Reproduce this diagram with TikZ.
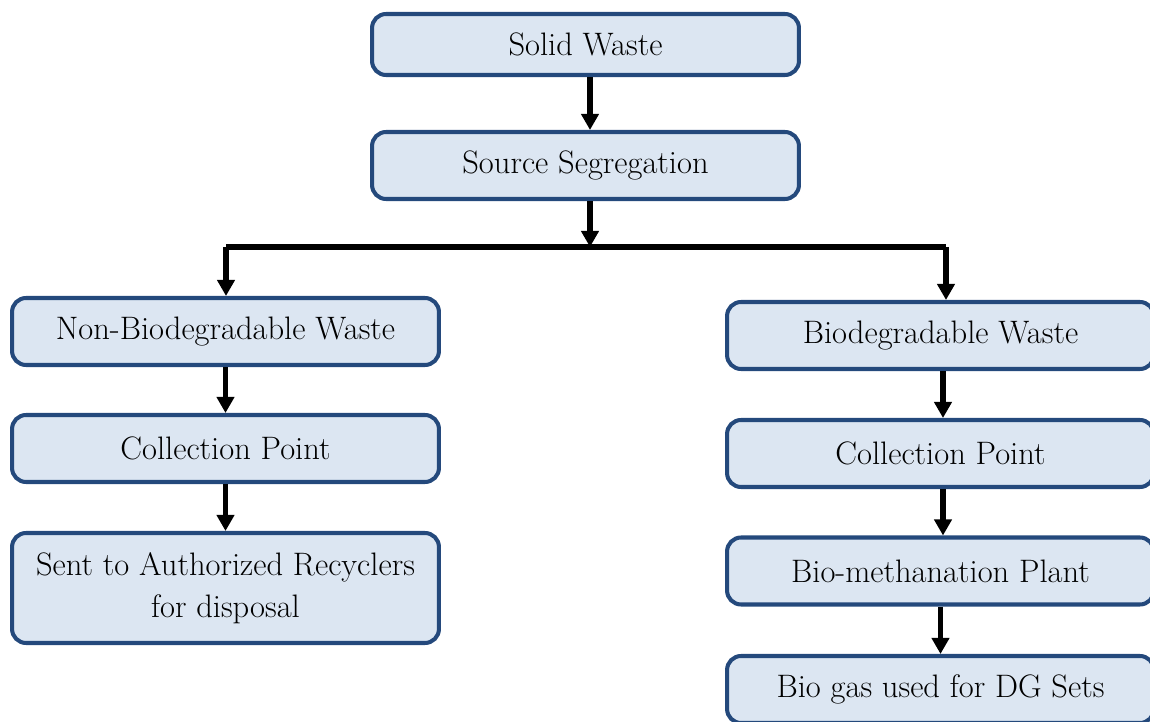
\documentclass[tikz,border=0pt]{standalone}
\usetikzlibrary{arrows.meta}

\definecolor{boxline}{HTML}{24497C}
\definecolor{boxfill}{HTML}{DCE6F2}

\begin{document}
\begin{tikzpicture}[
    x=0.02cm, y=-0.02cm,
    stepbox/.style={draw=boxline, fill=boxfill, line width=2.3pt, rounded corners=8pt,
        minimum width=8.54cm, minimum height=1.34cm, align=center,
        font=\fontsize{18.5}{24}\selectfont},
    arr/.style={line width=2.9pt, -{Triangle[length=3.2mm,width=3.4mm]}},
    bus/.style={line width=3pt}
]
\useasboundingbox (0,0) rectangle (1150,722);

% Main nodes
\node[stepbox, minimum height=1.22cm] (sw) at (585.5,44.5) {Solid Waste};
\node[stepbox] (seg) at (585.5,165.5) {Source Segregation};

% Left branch
\node[stepbox] (nbw) at (225.5,331.5) {Non-Biodegradable Waste};
\node[stepbox] (cpl) at (225.5,448.5) {Collection Point};
\node[stepbox, minimum height=2.2cm] (rec) at (225.5,588) {Sent to Authorized Recyclers\\for disposal};

% Right branch
\node[stepbox] (bw) at (940.5,335.5) {Biodegradable Waste};
\node[stepbox] (cpr) at (940.5,453.5) {Collection Point};
\node[stepbox] (bmp) at (940.5,571) {Bio-methanation Plant};
\node[stepbox] (bg) at (940.5,689.5) {Bio gas used for DG Sets};

% Helper coordinates
\coordinate (split) at (590,247);
\coordinate (busl) at (226,247);
\coordinate (busr) at (946,247);
\coordinate (rx) at (943,0);

% Top flow
\draw[arr] (split |- sw.south) -- (split |- seg.north);
\draw[arr] (split |- seg.south) -- (split);
\draw[bus] (busl) -- (busr);

% Branches
\draw[arr] (busl) -- (busl |- nbw.north);
\draw[arr] (busr) -- (busr |- bw.north);
\draw[arr] (nbw) -- (cpl);
\draw[arr] (cpl) -- (rec);
\draw[arr] (rx |- bw.south) -- (rx |- cpr.north);
\draw[arr] (rx |- cpr.south) -- (rx |- bmp.north);
\draw[arr] (bmp) -- (bg);

\end{tikzpicture}
\end{document}
